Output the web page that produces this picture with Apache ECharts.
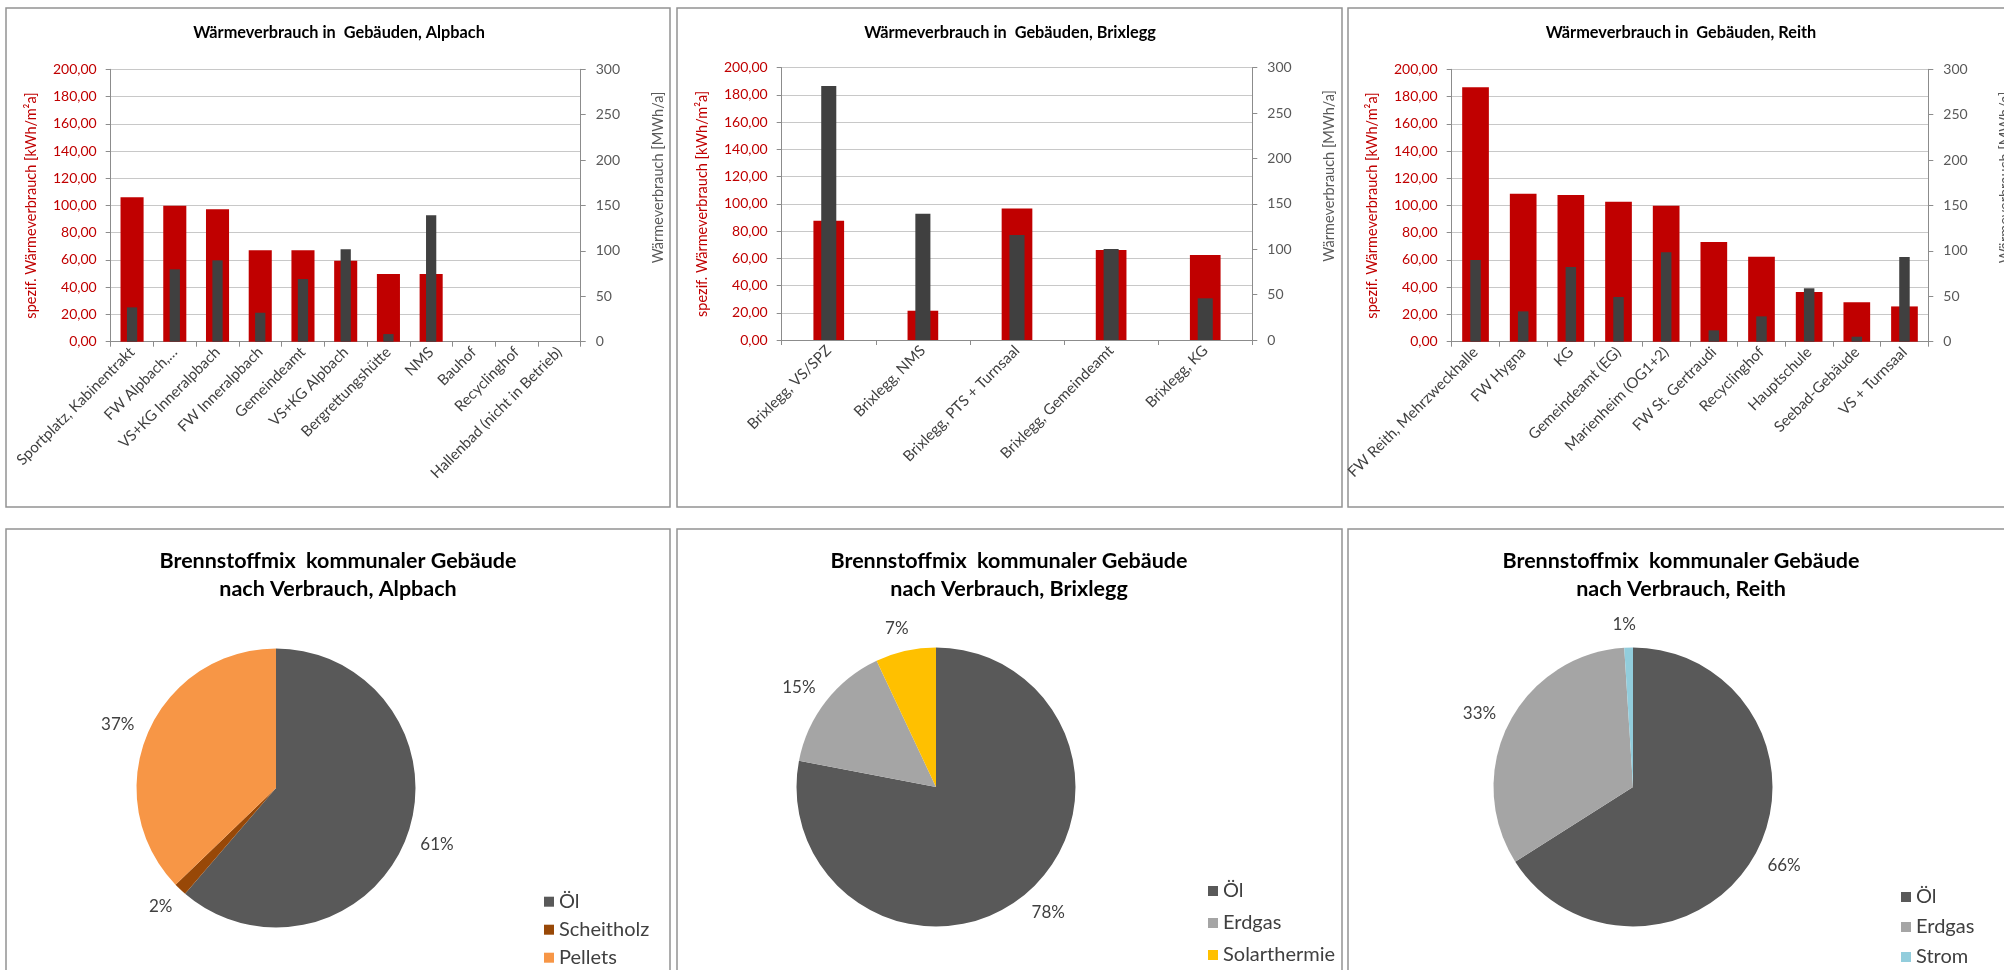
<!DOCTYPE html>
<html>
<head>
<meta charset="utf-8">
<title>Wärmeverbrauch und Brennstoffmix</title>
<script src="https://cdn.jsdelivr.net/npm/echarts@6.0.0/dist/echarts.min.js"></script>
<style>
  html, body { margin: 0; padding: 0; background: #fff; }
  #main { width: 2004px; height: 970px; }
</style>
</head>
<body>
<div id="main"></div>
<script>
// --- data ---
const alpbachCats = ['Sportplatz, Kabinentrakt', 'FW Alpbach,…', 'VS+KG Inneralpbach', 'FW Inneralpbach',
  'Gemeindeamt', 'VS+KG Alpbach', 'Bergrettungshütte', 'NMS', 'Bauhof', 'Recyclinghof', 'Hallenbad (nicht in Betrieb)']
const alpbachSpez = [106.0, 99.9, 97.2, 67.1, 67.1, 59.5, 49.7, 49.7, null, null, null]
const alpbachMWh = [37.8, 79.7, 89.6, 31.9, 69.0, 101.7, 8.4, 139.2, null, null, null]

const brixleggCats = ['Brixlegg, VS/SPZ', 'Brixlegg, NMS', 'Brixlegg, PTS + Turnsaal', 'Brixlegg, Gemeindeamt', 'Brixlegg, KG']
const brixleggSpez = [87.6, 21.5, 96.5, 66.1, 62.4]
const brixleggMWh = [279.8, 139.2, 115.7, 100.2, 45.9]

const reithCats = ['FW Reith, Mehrzweckhalle', 'FW Hygna', 'KG', 'Gemeindeamt (EG)', 'Marienheim (OG1+2)',
  'FW St. Gertraudi', 'Recyclinghof', 'Hauptschule', 'Seebad-Gebäude', 'VS + Turnsaal']
const reithSpez = [186.8, 108.7, 107.7, 102.8, 99.9, 73.2, 62.4, 36.5, 28.9, 25.9]
const reithMWh = [90.0, 33.4, 82.3, 49.2, 98.4, 12.5, 27.9, 58.8, 5.5, 93.3]

// axis scales
const spezMax = 200, spezStep = 20
const mwhMax = 300, mwhStep = 50

const alpbachFuels = ['Öl', 'Scheitholz', 'Pellets']
const alpbachShare = [61.3, 1.5, 37.2]
const brixleggFuels = ['Öl', 'Erdgas', 'Solarthermie']
const brixleggShare = [78, 15, 7]
const reithFuels = ['Öl', 'Erdgas', 'Strom']
const reithShare = [66, 33, 1]

// --- styles ---
const RED = '#C00000'
const DARK = '#404040'
const AXIS = '#8c8c8c'
const GRIDLINE = '#c8c8c8'
const TEXT = '#404040'
const GREY = '#595959'
const fuelColors = {
  'Öl': '#595959', 'Scheitholz': '#984807', 'Pellets': '#F79646',
  'Erdgas': '#A5A5A5', 'Solarthermie': '#FFC000', 'Strom': '#92CDDC'
}

const barPanels = [
  { title: 'Wärmeverbrauch in  Gebäuden, Alpbach', cats: alpbachCats, spez: alpbachSpez, mwh: alpbachMWh,
    titleX: 339, grid: { left: 110.7, top: 69.3, width: 470, height: 272.4 }, redW: '54%', darkW: '24%' },
  { title: 'Wärmeverbrauch in  Gebäuden, Brixlegg', cats: brixleggCats, spez: brixleggSpez, mwh: brixleggMWh,
    titleX: 1010, grid: { left: 781.7, top: 67.7, width: 470.6, height: 272.3 }, redW: '32.6%', darkW: '16%' },
  { title: 'Wärmeverbrauch in  Gebäuden, Reith', cats: reithCats, spez: reithSpez, mwh: reithMWh,
    titleX: 1681, grid: { left: 1451.7, top: 69.3, width: 476.6, height: 272.4 }, redW: '56%', darkW: '22%' }
]

const piePanels = [
  { place: 'Alpbach', fuels: alpbachFuels, share: alpbachShare, titleX: 338, center: [276, 788],
    legend: { left: 544, top: 891.7, gap: 8 } },
  { place: 'Brixlegg', fuels: brixleggFuels, share: brixleggShare, titleX: 1009, center: [936, 787],
    legend: { left: 1208, top: 881, gap: 12 } },
  { place: 'Reith', fuels: reithFuels, share: reithShare, titleX: 1681, center: [1633, 787],
    legend: { left: 1901, top: 887, gap: 10 } }
]

const frames = [
  [6, 8, 664, 499], [677, 8, 665, 499], [1348, 8, 670, 499],
  [6, 529, 664, 460], [677, 529, 665, 460], [1348, 529, 670, 460]
]

let title = [], grid = [], xAxis = [], yAxis = [], series = [], legend = []

barPanels.forEach((p, i) => {
  title.push({
    text: p.title, left: p.titleX, top: 24.5, textAlign: 'center', padding: 0,
    textStyle: { fontSize: 16.3, fontWeight: 'bold', color: '#000' }
  })
  grid.push(Object.assign({ containLabel: false, outerBoundsMode: 'none' }, p.grid))
  xAxis.push({
    type: 'category', gridIndex: i, data: p.cats,
    axisLine: { lineStyle: { color: AXIS } },
    axisTick: { show: true, interval: 0, length: 5, lineStyle: { color: AXIS } },
    axisLabel: { rotate: 45, interval: 0, fontSize: 15, color: TEXT, margin: 8 }
  })
  // second category axis so the dark bars are centred on their own
  xAxis.push({ type: 'category', gridIndex: i, data: p.cats, show: false })
  yAxis.push({
    type: 'value', gridIndex: i, position: 'left', min: 0, max: spezMax, interval: spezStep,
    axisLine: { show: true, lineStyle: { color: AXIS } },
    axisTick: { show: true, length: 5, lineStyle: { color: AXIS } },
    splitLine: { show: true, lineStyle: { color: GRIDLINE } },
    axisLabel: { color: RED, fontSize: 14, margin: 14, formatter: v => v.toFixed(2).replace('.', ',') },
    name: 'spezif. Wärmeverbrauch [kWh/m²a]', nameLocation: 'middle', nameRotate: 90, nameGap: 72,
    nameTextStyle: { color: RED, fontSize: 14.5 }
  })
  yAxis.push({
    type: 'value', gridIndex: i, position: 'right', min: 0, max: mwhMax, interval: mwhStep,
    axisLine: { show: true, lineStyle: { color: AXIS } },
    axisTick: { show: true, length: 5, lineStyle: { color: AXIS } },
    splitLine: { show: false },
    axisLabel: { color: GREY, fontSize: 14, margin: 15 },
    name: 'Wärmeverbrauch [MWh/a]', nameLocation: 'middle', nameRotate: 90, nameGap: 70,
    nameTextStyle: { color: GREY, fontSize: 14.5, padding: [0, 0, 0, 56] }
  })
  series.push({
    type: 'bar', xAxisIndex: 2 * i, yAxisIndex: 2 * i, data: p.spez, barWidth: p.redW,
    itemStyle: { color: RED }, silent: true
  })
  series.push({
    type: 'bar', xAxisIndex: 2 * i + 1, yAxisIndex: 2 * i + 1, data: p.mwh, barWidth: p.darkW,
    itemStyle: { color: DARK }, silent: true
  })
})

piePanels.forEach(p => {
  title.push({
    text: 'Brennstoffmix  kommunaler Gebäude\nnach Verbrauch, ' + p.place,
    left: p.titleX, top: 546.5, textAlign: 'center', padding: 0,
    textStyle: { fontSize: 21.5, fontWeight: 'bold', lineHeight: 28.5, color: '#000' }
  })
  series.push({
    type: 'pie', center: p.center, radius: 139.5, startAngle: 90, clockwise: true,
    avoidLabelOverlap: false, silent: true,
    data: p.fuels.map((n, k) => ({ name: n, value: p.share[k], itemStyle: { color: fuelColors[n] } })),
    itemStyle: { borderWidth: 0 },
    label: {
      position: 'outside', fontSize: 17, color: TEXT, distanceToLabelLine: -8,
      formatter: d => Math.round(d.percent) + '%'
    },
    labelLine: { show: false, length: 23, length2: 0 }
  })
  legend.push({
    data: p.fuels, orient: 'vertical', left: p.legend.left, top: p.legend.top,
    itemWidth: 10, itemHeight: 10, itemGap: p.legend.gap, icon: 'rect', padding: 0,
    selectedMode: false, textStyle: { fontSize: 20, color: TEXT }
  })
})

let myChart = echarts.init(document.getElementById('main'))
myChart.setOption({
  animation: false,
  backgroundColor: '#fff',
  textStyle: { fontFamily: 'Lato, "Noto Sans", sans-serif' },
  title, grid, xAxis, yAxis, series, legend,
  graphic: frames.map(f => ({
    type: 'rect', silent: true, z: -10,
    shape: { x: f[0], y: f[1], width: f[2], height: f[3] },
    style: { fill: 'none', stroke: '#939393', lineWidth: 1.5 }
  }))
})
window.onresize = function () {
  myChart.resize()
}
</script>
</body>
</html>
